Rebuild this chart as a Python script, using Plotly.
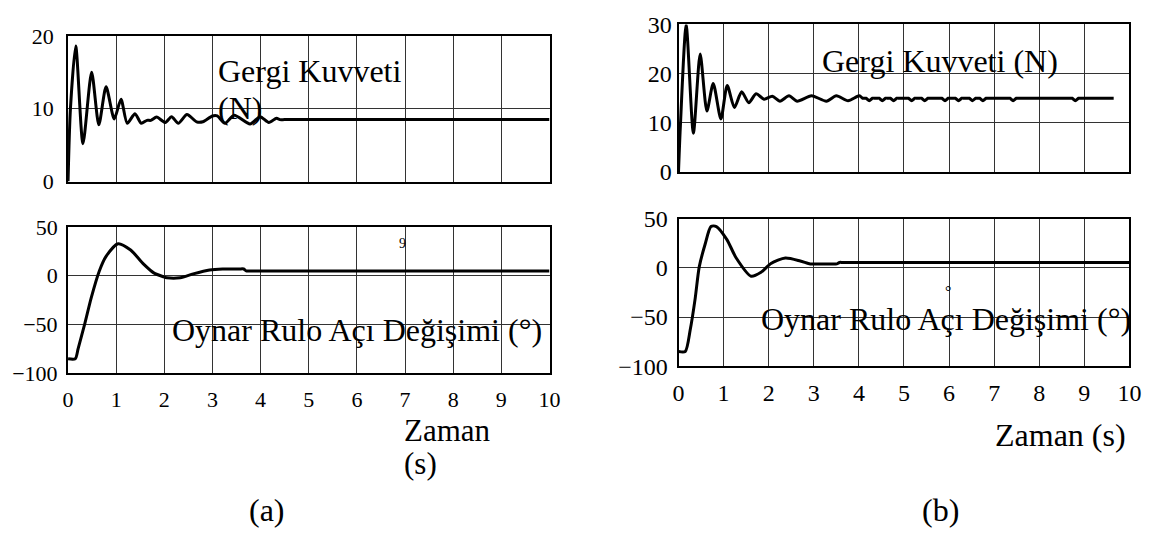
import plotly.graph_objects as go

W, H = 1171, 543

# ---- (a) Gergi Kuvveti (N) ----
t_force_a = [0, 0.05, 0.16, 0.31, 0.49, 0.64, 0.79, 0.96, 1.10, 1.23, 1.39, 1.52,
             1.64, 1.72, 1.84, 2.02, 2.15, 2.29, 2.47, 2.67, 2.80, 3.00, 3.10,
             3.26, 3.45, 3.78, 3.99, 4.17, 4.33, 4.40, 4.50, 10]
force_a = [0, 10.0, 18.6, 5.2, 15.0, 7.8, 13.0, 8.6, 11.3, 8.0, 9.3, 8.0,
           8.4, 8.4, 8.85, 8.1, 8.9, 8.0, 9.2, 8.2, 8.2, 9.0, 9.0,
           8.0, 9.1, 7.9, 8.9, 8.1, 8.7, 8.5, 8.5, 8.5]

# ---- (a) Oynar Rulo Açı Değişimi (°) ----
t_angle_a = [0, 0.15, 0.21, 0.35, 0.48, 0.65, 0.79, 1.04, 1.30, 1.57, 1.78, 1.98,
             2.05, 2.33, 2.60, 2.94, 3.21, 3.55, 3.65, 3.70, 3.80, 10]
angle_a = [-85.5, -85.5, -75, -49, -23, 5, 20, 33, 26.5, 12, 3, -1,
           -2, -2, 2, 6, 7, 7, 7, 5, 5, 5]

# ---- (b) Gergi Kuvveti (N) ----
t_force_b = [0, 0.04, 0.17, 0.33, 0.48, 0.63, 0.77, 0.94, 1.08, 1.24, 1.40, 1.56,
             1.72, 1.90, 2.08, 2.25, 2.45, 2.63, 2.95, 3.28, 3.50, 3.76, 4.01, 4.08,
             4.11, 4.16, 4.23, 4.30, 4.35,
             4.40, 4.45, 4.52, 4.59, 4.64,
             4.65, 4.70, 4.77, 4.84, 4.89,
             5.05, 5.10, 5.17, 5.24, 5.29,
             5.34, 5.39, 5.46, 5.53, 5.58,
             5.79, 5.84, 5.91, 5.98, 6.03,
             6.09, 6.14, 6.21, 6.28, 6.33,
             6.40, 6.45, 6.52, 6.59, 6.63,
             6.64, 6.68, 6.75, 6.82, 6.87,
             7.30, 7.35, 7.42, 7.49, 7.54,
             8.68, 8.73, 8.80, 8.87, 8.92, 9.65]
force_b = [0, 9.0, 29.9, 7.9, 24.0, 12.4, 18.0, 10.8, 17.6, 13.1, 16.3, 14.1,
           15.9, 14.8, 15.4, 14.4, 15.5, 14.4, 15.5, 14.4, 15.5, 14.5, 15.5, 15.0,
           15.0, 15.0, 14.5, 15.0, 15.0,
           15.0, 15.0, 14.5, 15.0, 15.0,
           15.0, 15.0, 14.5, 15.0, 15.0,
           15.0, 15.0, 14.5, 15.0, 15.0,
           15.0, 15.0, 14.5, 15.0, 15.0,
           15.0, 15.0, 14.5, 15.0, 15.0,
           15.0, 15.0, 14.5, 15.0, 15.0,
           15.0, 15.0, 14.5, 15.0, 15.0,
           15.0, 15.0, 14.5, 15.0, 15.0,
           15.0, 15.0, 14.5, 15.0, 15.0,
           15.0, 15.0, 14.5, 15.0, 15.0, 15.0]

# ---- (b) Oynar Rulo Açı Değişimi (°) ----
t_angle_b = [0, 0.15, 0.26, 0.37, 0.46, 0.59, 0.72, 0.84, 1.07, 1.28, 1.61, 1.83,
             2.05, 2.37, 2.70, 2.92, 3.00, 3.45, 3.51, 3.57, 3.65, 10]
angle_b = [-85, -85, -63, -31, 1, 24, 42, 42, 29, 10, -8.5, -4.5,
           4.5, 10, 7, 4, 4, 4, 4, 5.5, 5.5, 5.5]

time_ticks = list(range(0, 11))
force_ticks_a = [0, 10, 20]
force_ticks_b = [0, 10, 20, 30]
angle_ticks = [-100, -50, 0, 50]

SERIF = "Liberation Serif, Times New Roman, serif"


def dom_x(left, right):
    return [left / W, right / W]


def dom_y(top, bottom):
    return [1 - bottom / H, 1 - top / H]


def base_axis(size):
    return dict(
        showline=True, mirror=True, linecolor="black", linewidth=2,
        showgrid=True, gridcolor="#333333", gridwidth=1,
        zeroline=False, ticks="",
        tickfont=dict(family=SERIF, size=size, color="black"),
        fixedrange=True,
    )


fig = go.Figure()

line_style = dict(color="black", width=3, shape="spline", smoothing=0.7)

fig.add_trace(go.Scatter(x=t_force_a, y=force_a, mode="lines", line=line_style,
                         xaxis="x", yaxis="y", showlegend=False))
fig.add_trace(go.Scatter(x=t_angle_a, y=angle_a, mode="lines", line=line_style,
                         xaxis="x2", yaxis="y2", showlegend=False))
fig.add_trace(go.Scatter(x=t_force_b, y=force_b, mode="lines", line=line_style,
                         xaxis="x3", yaxis="y3", showlegend=False))
fig.add_trace(go.Scatter(x=t_angle_b, y=angle_b, mode="lines", line=line_style,
                         xaxis="x4", yaxis="y4", showlegend=False))

layout = dict(
    width=W, height=H,
    margin=dict(l=0, r=0, t=0, b=0),
    paper_bgcolor="white", plot_bgcolor="white",
    showlegend=False,
)

# (a) top
layout["xaxis"] = dict(base_axis(22), domain=dom_x(63, 552), range=[0, 10],
                       tickvals=time_ticks, showticklabels=False, anchor="y")
layout["yaxis"] = dict(base_axis(22), domain=dom_y(24, 177), range=[0, 20],
                       tickvals=force_ticks_a, anchor="x", ticklabelstandoff=8)
# (a) bottom
layout["xaxis2"] = dict(base_axis(22), domain=dom_x(63, 552), range=[0, 10],
                        tickvals=time_ticks, anchor="y2", ticklabelstandoff=6)
layout["yaxis2"] = dict(base_axis(22), domain=dom_y(225, 378), range=[-100, 50],
                        tickvals=angle_ticks, anchor="x2", ticklabelstandoff=4)
# (b) top
layout["xaxis3"] = dict(base_axis(24), domain=dom_x(683, 1141), range=[0, 10],
                        tickvals=time_ticks, showticklabels=False, anchor="y3")
layout["yaxis3"] = dict(base_axis(24), domain=dom_y(12, 167), range=[0, 30],
                        tickvals=force_ticks_b, anchor="x3", ticklabelstandoff=0)
# (b) bottom
layout["xaxis4"] = dict(base_axis(24), domain=dom_x(683, 1141), range=[0, 10],
                        tickvals=time_ticks, anchor="y4", ticklabelstandoff=4)
layout["yaxis4"] = dict(base_axis(24), domain=dom_y(216, 371), range=[-100, 50],
                        tickvals=angle_ticks, anchor="x4", ticklabelstandoff=4)


def label(text, x, y, size=32, xanchor="left"):
    return dict(text=text, x=x / W, y=1 - y / H, xref="paper", yref="paper",
                xanchor=xanchor, yanchor="middle", showarrow=False,
                font=dict(family=SERIF, size=size, color="black"))


layout["annotations"] = [
    label("Gergi Kuvveti", 213, 61),
    label("(N)", 213, 100),
    label("Oynar Rulo Açı Değişimi (°)", 167, 333),
    label("9", 403, 242, size=14, xanchor="center"),
    label("Zaman", 402, 438, size=31),
    label("(s)", 402, 473, size=31),
    label("(a)", 265, 522, xanchor="center"),
    label("Gergi Kuvveti (N)", 827, 50),
    label("Oynar Rulo Açı Değişimi (°)", 765, 321),
    label("°", 957, 292, size=16, xanchor="center"),
    label("Zaman (s)", 1002, 443),
    label("(b)", 949, 522, xanchor="center"),
]

fig.update_layout(**layout)
fig.write_html("out.html")
